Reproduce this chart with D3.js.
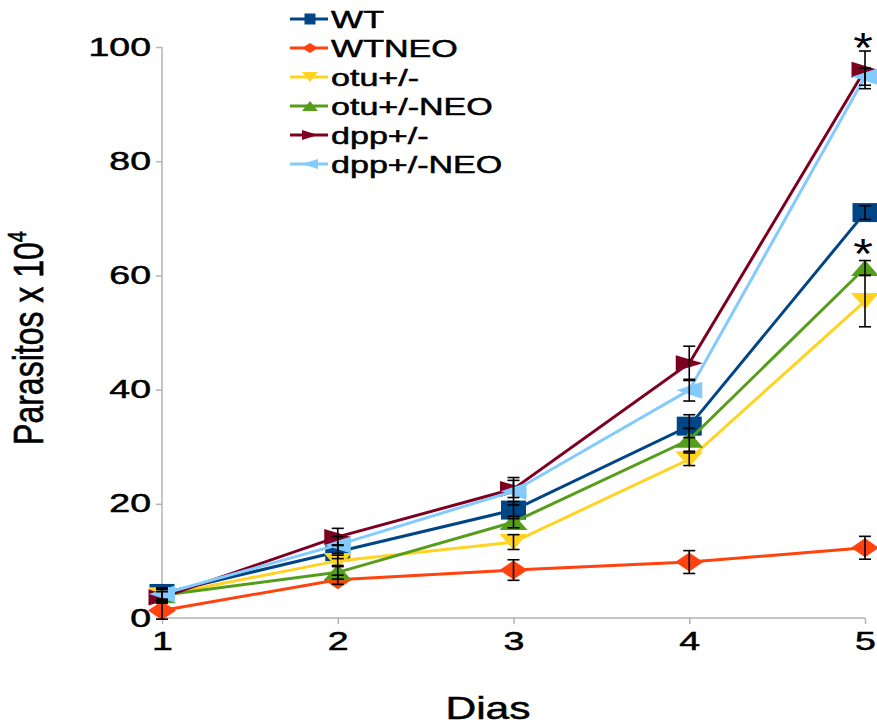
<!DOCTYPE html>
<html>
<head>
<meta charset="utf-8">
<script src="https://cdn.jsdelivr.net/npm/d3@7"></script>
<style>
  body { margin: 0; background: #fff; }
  text { font-family: "Liberation Sans", Arial, sans-serif; fill: #000; stroke: #000; stroke-width: 0.5px; }
</style>
</head>
<body>
<svg id="chart" width="877" height="726"></svg>
<script>
const days = [1, 2, 3, 4, 5];
const yTicks = [0, 20, 40, 60, 80, 100];

const seriesNames = ["WT", "WTNEO", "otu+/-", "otu+/-NEO", "dpp+/-", "dpp+/-NEO"];
const seriesColors = ["#004586", "#ff420e", "#ffd320", "#579d1c", "#7e0021", "#83caff"];
const seriesSymbols = ["square", "diamond", "down", "up", "right", "left"];

const wtValues = [4.3, 11.6, 18.9, 33.6, 71];
const wtneoValues = [1.3, 6.7, 8.4, 9.8, 12.3];
const otuValues = [4.0, 10.0, 13.3, 27.8, 55.5];
const otuNeoValues = [4.0, 8.0, 16.8, 31.2, 61.3];
const dppValues = [3.6, 14.2, 22.6, 44.6, 96.0];
const dppNeoValues = [4.2, 12.8, 22.2, 39.9, 94.8];

const wtErr = [1.0, 1.2, 1.5, 2.0, 1.2];
const wtneoErr = [1.5, 0.8, 1.8, 2.0, 2.0];
const otuErr = [1.0, 1.0, 1.3, 1.1, 4.5];
const otuNeoErr = [1.0, 1.2, 1.0, 2.0, 1.3];
const dppErr = [1.0, 1.5, 1.5, 3.0, 3.3];
const dppNeoErr = [1.0, 1.5, 2.4, 1.9, 1.5];

const allValues = [wtValues, wtneoValues, otuValues, otuNeoValues, dppValues, dppNeoValues];
const allErrors = [wtErr, wtneoErr, otuErr, otuNeoErr, dppErr, dppNeoErr];

// significance marks: [day, value]
const stars = [[5, 101.5], [5, 65.5]];

const svg = d3.select("#chart");
const x = d3.scaleLinear().domain([1, 5]).range([162, 865]);
const y = d3.scaleLinear().domain([0, 100]).range([618, 47]);

// the original figure is stretched sideways, text included
const stretch = 1.5;

// axes
const yAxis = svg.append("g")
  .attr("transform", "translate(162,0)")
  .call(d3.axisLeft(y).tickValues(yTicks).tickSize(6));
yAxis.select(".domain").attr("stroke", "#b3b3b3").attr("stroke-width", 1.5)
  .attr("d", "M0," + y(100) + "V" + y(0));
yAxis.selectAll(".tick line").attr("stroke", "#b3b3b3").attr("stroke-width", 1.5);
yAxis.selectAll(".tick text")
  .attr("x", 0)
  .attr("transform", `translate(-11,0) scale(${stretch},1)`)
  .style("font-family", "Liberation Sans, Arial, sans-serif")
  .style("font-size", "25px").attr("fill", "#000");

const xAxis = svg.append("g")
  .attr("transform", "translate(0,618)")
  .call(d3.axisBottom(x).tickValues(days).tickFormat(d3.format("d")).tickSize(6));
xAxis.select(".domain").attr("stroke", "#b3b3b3").attr("stroke-width", 1.5)
  .attr("d", "M162,0H865");
xAxis.selectAll(".tick line").attr("stroke", "#b3b3b3").attr("stroke-width", 1.5);
xAxis.selectAll(".tick text")
  .attr("y", 32).attr("dy", null).attr("x", 0)
  .attr("transform", `scale(${stretch},1)`)
  .style("font-family", "Liberation Sans, Arial, sans-serif")
  .style("font-size", "25px").attr("fill", "#000");

// axis titles
const yTitle = svg.append("text")
  .attr("transform", "translate(43,338) scale(1.3,1) rotate(-90)")
  .attr("text-anchor", "middle")
  .style("font-size", "32px");
yTitle.append("tspan").text("Parasitos x 10");
yTitle.append("tspan").attr("dy", -13).style("font-size", "20px").text("4");

svg.append("text")
  .attr("transform", "translate(488,719) scale(1.33,1)")
  .attr("text-anchor", "middle")
  .style("font-size", "32px")
  .text("Dias");

// marker path, w x h box
function symbolPath(kind, w, h) {
  const a = w / 2, b = h / 2;
  switch (kind) {
    case "square": return `M${-a},${-b}H${a}V${b}H${-a}Z`;
    case "diamond": return `M${-a},0L0,${-b}L${a},0L0,${b}Z`;
    case "down": return `M${-a},${-b}H${a}L0,${b}Z`;
    case "up": return `M${-a},${b}H${a}L0,${-b}Z`;
    case "right": return `M${-a},${-b}L${a},0L${-a},${b}Z`;
    case "left": return `M${a},${-b}L${-a},0L${a},${b}Z`;
  }
}
const markerSize = {
  square: [25, 19], diamond: [28, 19], down: [28, 16],
  up: [28, 16], right: [27, 16], left: [26, 17]
};

const line = d3.line().x((d, i) => x(days[i])).y(d => y(d));

seriesNames.forEach((name, si) => {
  const g = svg.append("g");
  const sz = markerSize[seriesSymbols[si]];
  g.append("path")
    .attr("d", line(allValues[si]))
    .attr("fill", "none")
    .attr("stroke", seriesColors[si])
    .attr("stroke-width", 3);
  g.selectAll("path.marker")
    .data(allValues[si])
    .enter().append("path")
    .attr("class", "marker")
    .attr("transform", (d, i) => `translate(${x(days[i])},${y(d)})`)
    .attr("d", symbolPath(seriesSymbols[si], sz[0], sz[1]))
    .attr("fill", seriesColors[si]);
});

// error bars
seriesNames.forEach((name, si) => {
  const g = svg.append("g").attr("stroke", "#000").attr("stroke-width", 1.6);
  allValues[si].forEach((v, i) => {
    const e = allErrors[si][i];
    const cx = x(days[i]);
    g.append("line").attr("x1", cx).attr("x2", cx).attr("y1", y(v - e)).attr("y2", y(v + e));
    g.append("line").attr("x1", cx - 6).attr("x2", cx + 6).attr("y1", y(v - e)).attr("y2", y(v - e));
    g.append("line").attr("x1", cx - 6).attr("x2", cx + 6).attr("y1", y(v + e)).attr("y2", y(v + e));
  });
});

// significance stars
svg.selectAll("text.star")
  .data(stars)
  .enter().append("text")
  .attr("class", "star")
  .attr("transform", d => `translate(${x(d[0]) - 2},${y(d[1]) + 24}) scale(1.2,1)`)
  .attr("text-anchor", "middle")
  .style("font-size", "42px")
  .style("stroke-width", "0px")
  .text("*");

// legend
const legend = svg.append("g").attr("transform", "translate(290,19)");
seriesNames.forEach((name, si) => {
  const row = legend.append("g").attr("transform", `translate(0,${si * 29})`);
  row.append("line").attr("x1", 0).attr("x2", 38).attr("y1", 0).attr("y2", 0)
    .attr("stroke", seriesColors[si]).attr("stroke-width", 3);
  row.append("path").attr("transform", "translate(20,0)")
    .attr("d", symbolPath(seriesSymbols[si], seriesSymbols[si] === "square" ? 11 : 16, seriesSymbols[si] === "square" ? 11 : 10))
    .attr("fill", seriesColors[si]);
  row.append("text")
    .attr("transform", "translate(41,8.5) scale(1.45,1)")
    .style("font-size", "23.5px")
    .text(name);
});
</script>
</body>
</html>
